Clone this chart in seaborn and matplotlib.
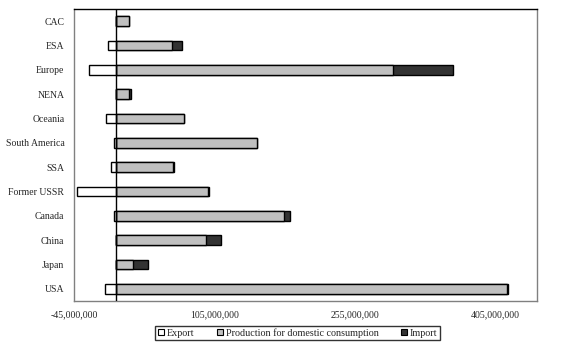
import matplotlib
matplotlib.use("Agg")
import matplotlib.pyplot as plt
import seaborn as sns
import pandas as pd
from matplotlib.patches import Patch
from matplotlib.ticker import FuncFormatter

regions = ["CAC", "ESA", "Europe", "NENA", "Oceania", "South America", "SSA",
           "Former USSR", "Canada", "China", "Japan", "USA"]
export = [0, -8.7e6, -29e6, 0, -10.8e6, -2.2e6, -5.5e6,
          -41.9e6, -2.2e6, 0, 0, -11.9e6]
production = [13.8e6, 59.9e6, 295.6e6, 14.2e6, 72.7e6, 151e6, 61e6,
              97.8e6, 180e6, 96.3e6, 18.1e6, 418e6]
imports = [0, 10.7e6, 64.3e6, 2.1e6, 0, 0, 1.0e6,
           1.0e6, 5.8e6, 15.4e6, 16e6, 1.0e6]
xticks = [-45e6, 105e6, 255e6, 405e6]

df = pd.DataFrame({"region": regions, "export": export,
                   "production": production, "import": imports})
df["total"] = df["production"] + df["import"]

sns.set_style("white")
plt.rcParams["font.family"] = ["Liberation Serif", "DejaVu Serif"]

fig = plt.figure(figsize=(5.71, 3.51), dpi=100)
ax = fig.add_axes([74 / 571, 1 - 301 / 351, (537 - 74) / 571, (301 - 9) / 351])

w = 0.41
kw = dict(edgecolor="black", linewidth=1.0, width=w, orient="h", ax=ax, saturation=1)
sns.barplot(data=df, y="region", x="total", color="#333333", **kw)
sns.barplot(data=df, y="region", x="production", color="#C0C0C0", **kw)
sns.barplot(data=df, y="region", x="export", color="white", **kw)
for p in ax.patches:
    p.set_alpha(1)

ax.axvline(0, color="black", lw=1.0, zorder=5)

ax.set_xlim(-45e6, 450e6)
ax.set_ylim(11.5, -0.5)
ax.set_xticks(xticks)
ax.xaxis.set_major_formatter(FuncFormatter(lambda v, p: f"{v:,.0f}"))
ax.set_xlabel("")
ax.set_ylabel("")
ax.tick_params(axis="x", length=0, labelsize=7, pad=6.5)
ax.tick_params(axis="y", length=0, labelsize=7, pad=7)
ax.grid(False)

for s in ["left", "right", "bottom"]:
    ax.spines[s].set_color("#808080")
    ax.spines[s].set_linewidth(1.0)
ax.spines["top"].set_color("black")
ax.spines["top"].set_linewidth(1.0)

handles = [Patch(facecolor="white", edgecolor="black", lw=0.8, label="Export"),
           Patch(facecolor="#C0C0C0", edgecolor="black", lw=0.8,
                 label="Production for domestic consumption"),
           Patch(facecolor="#333333", edgecolor="black", lw=0.8, label="Import")]
leg = fig.legend(handles=handles, loc="center", bbox_to_anchor=(297.5 / 571, 1 - 333 / 351),
                 ncol=3, fontsize=7.3, frameon=True, fancybox=False,
                 handlelength=0.6, handleheight=0.6, handletextpad=0.3,
                 columnspacing=2.2, borderpad=0.25, borderaxespad=0)
leg.get_frame().set_edgecolor("black")
leg.get_frame().set_linewidth(1.0)

fig.savefig("out.png", dpi=100)
